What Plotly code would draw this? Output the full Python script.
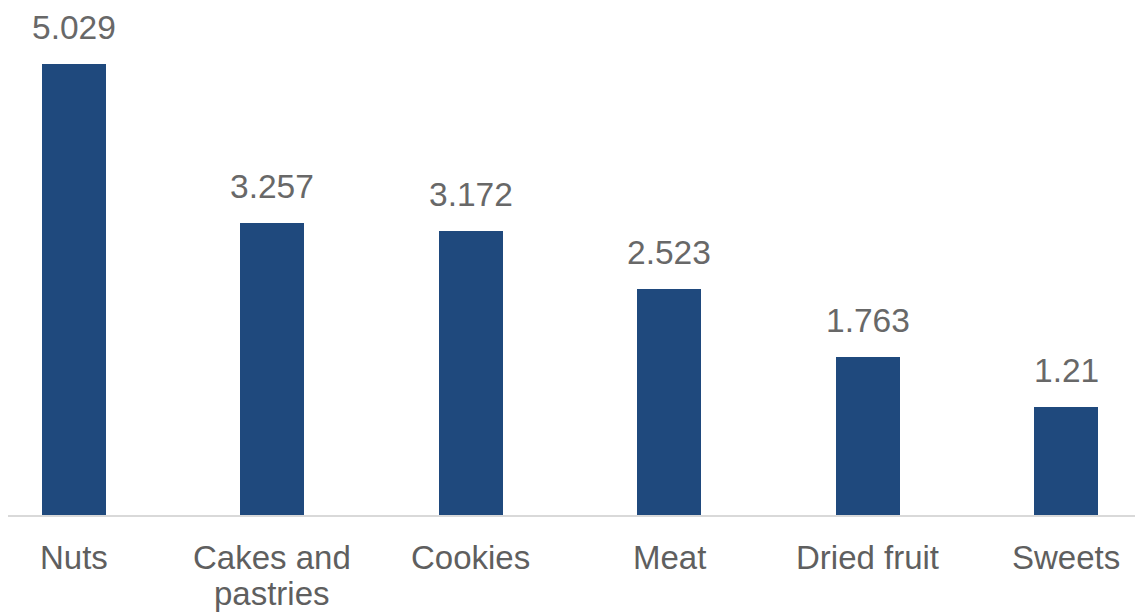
import plotly.graph_objects as go

categories = ["Nuts", "Cakes and pastries", "Cookies", "Meat", "Dried fruit", "Sweets"]
tick_lines = [["Nuts"], ["Cakes and", "pastries"], ["Cookies"], ["Meat"], ["Dried fruit"], ["Sweets"]]
values = [5.029, 3.257, 3.172, 2.523, 1.763, 1.21]
value_labels = ["5.029", "3.257", "3.172", "2.523", "1.763", "1.21"]

BAR_COLOR = "#1F497D"
FONT = "Liberation Sans, Arial, sans-serif"
LABEL_SIZE = 33
LINE_STEP = 36  # px between wrapped category-label lines

fig = go.Figure()
fig.add_trace(go.Bar(
    x=categories,
    y=values,
    width=0.323,
    marker=dict(color=BAR_COLOR, line=dict(width=0)),
    hoverinfo="skip",
))

# value labels above each bar
for cat, val, lab in zip(categories, values, value_labels):
    fig.add_annotation(
        x=cat, y=val, text=lab, showarrow=False,
        yanchor="bottom", yshift=16,
        font=dict(family=FONT, size=33.5, color="#686868"),
    )

# category labels under the axis, wrapped with a compact line step
for cat, lines in zip(categories, tick_lines):
    for i, line in enumerate(lines):
        fig.add_annotation(
            x=cat, xref="x", y=0, yref="paper", text=line, showarrow=False,
            yanchor="middle", yshift=-(42 + i * LINE_STEP),
            font=dict(family=FONT, size=LABEL_SIZE, color="#5F5F5F"),
        )

fig.update_layout(
    width=1135, height=614,
    margin=dict(l=8, r=0, t=13, b=99, autoexpand=False),
    paper_bgcolor="white", plot_bgcolor="white",
    showlegend=False,
    bargap=0,
)
fig.update_xaxes(
    type="category",
    range=[-0.3327, 5.347],
    automargin=False,
    showline=True, linecolor="#D9D9D9", linewidth=2,
    showgrid=False, ticks="",
    showticklabels=False,
)
fig.update_yaxes(
    range=[0, 5.6],
    visible=False,
    automargin=False,
    showgrid=False, zeroline=False,
)

fig.write_html("out.html")
